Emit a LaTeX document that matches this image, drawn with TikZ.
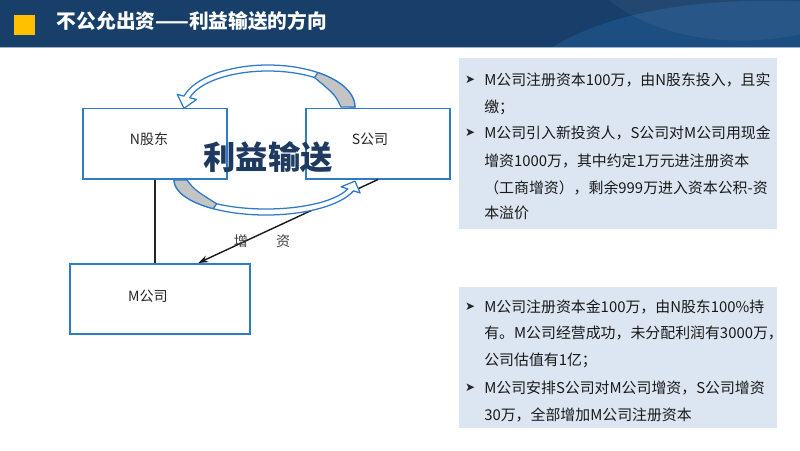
\documentclass[tikz,border=0pt]{standalone}
\usepackage{fontspec}
\setmainfont{Liberation Serif}
\newfontfamily\cjk{Noto Sans CJK SC}
\newfontfamily\sym{DejaVu Sans}
\usetikzlibrary{calc,arrows.meta,positioning}
\definecolor{hdrblue}{HTML}{173F6A}
\definecolor{hdrlight}{HTML}{2A6AAE}
\definecolor{hdrline}{HTML}{9FB3CA}
\definecolor{boxblue}{HTML}{2E7BC9}
\definecolor{panelblue}{HTML}{DCE6F2}
\definecolor{titleyellow}{HTML}{FFC000}
\definecolor{flownavy}{HTML}{1F3A60}
\definecolor{tailgray}{HTML}{C4C4C4}
\tikzset{
  box/.style={draw=boxblue, line width=1.4pt, rectangle, minimum height=1.75cm},
  boxtext/.style={font=\cjk\fontsize{10}{12}\selectfont, text=black!85},
  panel/.style={fill=panelblue, draw=none},
  ptext/.style={anchor=west, inner sep=0pt, font=\cjk\fontsize{10.6}{12}\selectfont, text=black!90},
  pbullet/.style={inner sep=0pt, font=\sym\fontsize{8.5}{10}\selectfont, text=black!85},
  curv/.style={fill=white, draw=boxblue, line width=0.9pt, line join=round},
  curvtail/.style={fill=tailgray, draw=boxblue, line width=0.9pt, line join=round},
}
\begin{document}
\begin{tikzpicture}[x=0.025cm, y=-0.025cm, >={Stealth[length=7pt,width=5pt]}]
\useasboundingbox (0,0) rectangle (800,450);
% header band
\fill[hdrblue] (0,0) rectangle (800,47);
\begin{scope}
\clip (0,0) rectangle (800,47);
\fill[hdrlight, opacity=0.35] (553,47) .. controls (610,12) and (700,-4) .. (810,2) -- (810,47) -- cycle;
\fill[white, opacity=0.05] (608,-1) .. controls (650,35) and (730,52) .. (810,32) -- (810,-1) -- cycle;
\end{scope}
\draw[hdrline, line width=1.2pt] (0,47.5) -- (800,47.5);
\fill[titleyellow] (14,15) rectangle (35,35);
\node[anchor=west, text=white, font=\cjk\bfseries\fontsize{14}{16}\selectfont] (title) at (52,21) {不公允出资——利益输送的方向};

% text panels
\fill[panel] (459,58) rectangle (777,229);
\fill[panel] (459,287) rectangle (777,428);
\node[pbullet] (b1) at (470,80) {➤};
\node[ptext] (p1) at (484,80) {M公司注册资本100万，由N股东投入，且实};
\node[ptext] (p2) at (484,107) {缴；};
\node[pbullet] (b2) at (470,133) {➤};
\node[ptext] (p3) at (484,133) {M公司引入新投资人，S公司对M公司用现金};
\node[ptext] (p4) at (484,161) {增资1000万，其中约定1万元进注册资本};
\node[ptext] (p5) at (484,188) {（工商增资），剩余999万进入资本公积-资};
\node[ptext] (p6) at (484,213) {本溢价};
\node[pbullet] (b3) at (470,307) {➤};
\node[ptext] (q1) at (484,307) {M公司注册资本金100万，由N股东100\%持};
\node[ptext] (q2) at (484,333) {有。M公司经营成功，未分配利润有3000万，};
\node[ptext] (q3) at (484,360) {公司估值有1亿；};
\node[pbullet] (b4) at (470,388) {➤};
\node[ptext] (q4) at (484,388) {M公司安排S公司对M公司增资，S公司增资};
\node[ptext] (q5) at (484,415) {30万，全部增加M公司注册资本};

% parties
\node[box, minimum width=3.6cm, label={[boxtext, xshift=-0.15cm, yshift=0.11cm]center:N股东}] (N) at (155,143.5) {};
\node[box, minimum width=3.6cm, label={[boxtext, xshift=-0.2cm, yshift=0.11cm]center:S公司}] (S) at (378,143.5) {};
\node[box, minimum width=4.5cm, label={[boxtext, xshift=-0.3cm, yshift=0.075cm]center:M公司}] (M) at (160,299) {};

\draw[line width=1.6pt, black!85] (N.south) -- (N.south |- M.north);
\coordinate (Min) at ($(M.north west)!0.71!(M.north east)$);
\draw[->, line width=1pt, black!90] (S.south) -- (Min);
\node[font=\cjk\fontsize{10}{12}\selectfont, text=black!75] (zz) at (262,241) {增\hspace{20pt}资};

% curved arrows S -> N and N -> S
\coordinate (C1) at (268,107);
\filldraw[curv] ($(C1)+(360:87 and 42)$) arc[start angle=360, end angle=195, x radius=87, y radius=42]
  -- ($(C1)+(195:94 and 49)$) -- ($(C1)+(178:84 and 39)$) -- ($(C1)+(195:74 and 29)$)
  -- ($(C1)+(195:81 and 36)$) arc[start angle=195, end angle=360, x radius=81, y radius=36] -- cycle;
\filldraw[curvtail] ($(C1)+(360:87 and 42)$) arc[start angle=360, end angle=305, x radius=87, y radius=42]
  -- ($(C1)+(305:81 and 36)$) .. controls ($(C1)+(335:74 and 29)$) .. ($(C1)+(360:73 and 29)$) -- cycle;
\coordinate (C2) at (266,180);
\filldraw[curv] ($(C2)+(180:92 and 35)$) arc[start angle=180, end angle=18, x radius=92, y radius=35]
  -- ($(C2)+(18:99 and 42)$) -- ($(C2)+(2:89 and 32)$) -- ($(C2)+(18:79 and 22)$)
  -- ($(C2)+(18:86 and 29)$) arc[start angle=18, end angle=180, x radius=86, y radius=29] -- cycle;
\filldraw[curvtail] ($(C2)+(180:92 and 35)$) arc[start angle=180, end angle=125, x radius=92, y radius=35]
  -- ($(C2)+(125:86 and 29)$) .. controls ($(C2)+(155:79 and 23)$) .. ($(C2)+(180:79 and 23)$) -- cycle;

\node[font=\cjk\bfseries\fontsize{23}{23}\selectfont, text=flownavy] (flow) at (268,157) {利益输送};
\end{tikzpicture}
\end{document}
